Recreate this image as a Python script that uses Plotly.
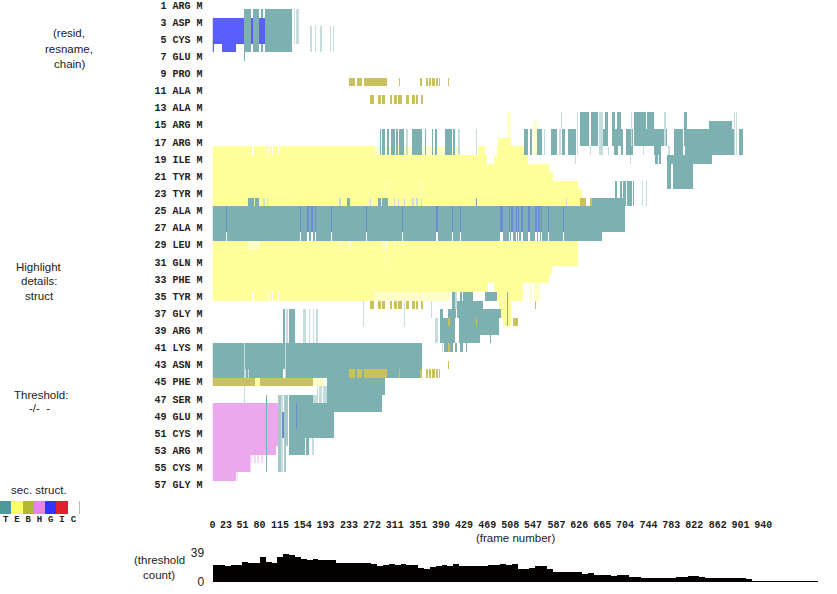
import numpy as np
import plotly.graph_objects as go

W, H = 837, 594
N_FRAMES = 1034
N_RES = 58
FRAME_TICKS = [0,23,51,80,115,154,193,233,272,311,351,390,429,469,508,547,587,626,665,704,744,783,822,862,901,940]
RES_IDS = list(range(1, 58, 2))
RES_NAMES = ["ARG","ASP","CYS","GLU","PRO","ALA","ALA","ARG","ARG","ILE","TYR","TYR","ALA","ALA","LEU",
             "GLN","PHE","TYR","GLY","ARG","LYS","ASN","PHE","SER","GLU","CYS","ARG","CYS","GLY"]
SS_LETTERS = ["T","E","B","H","G","I","C"]
SS_LEGEND_COLORS = ["#4a9a9a","#ffff66","#b5b534","#e884e8","#3333ff","#e0202c","#ffffff"]

# run tables: (first residue, last residue, first frame, last frame)
E_RUNS = [(18,18,0,276),(18,18,453,465),(18,18,486,531),(17,17,487,510),(19,19,0,468),(19,19,480,538),
          (20,20,0,575),(21,21,0,581),(22,22,0,624),(23,23,0,630),(24,24,0,627),(29,31,0,624),(32,32,0,579),
          (33,33,0,575),(34,34,0,530),(35,35,0,276),(35,35,485,530),(36,36,488,510),(37,37,491,510),(38,38,496,510)]
PALE_E_RUNS = [(14,16,503,510),(18,18,276,420),(35,35,276,405),(34,35,541,545),(34,35,549,558),(15,18,547,553),(29,29,61,81),
               (29,29,215,219),(29,29,230,236),(29,29,290,300),(29,31,296,298),(22,24,296,298),(22,24,355,356),
               (29,29,309,312),(29,29,326,327),(45,45,172,190)]
H_RUNS = [(48,52,0,112),(53,53,0,108),(54,55,0,64),(56,56,0,40)]
PALE_H_RUNS = [(54,54,64,68),(54,54,70,74),(54,54,76,80),(54,54,83,87),(55,55,64,66),(56,56,41,43)]
T_RUNS = [(2,6,53,136),(7,7,53,55),
          (16,18,285,288),(16,18,290,295),(16,18,298,302),(16,18,305,311),(16,18,313,317),(16,18,319,327),
          (16,18,340,343),(16,18,344,347),(16,18,348,357),(16,18,363,365),(16,18,375,377),(16,18,380,383),
          (16,18,397,408),(16,18,410,414),(16,18,532,538),(16,18,541,545),(16,18,553,562),(16,18,578,588),
          (16,18,597,601),(16,18,607,620),
          (14,17,627,643),(14,17,645,657),(14,17,670,675),(14,17,682,687),(14,17,691,697),(14,17,720,732),
          (14,17,733,740),(14,17,742,753),(14,17,805,810),
          (16,17,660,675),(16,17,682,701),(16,17,705,718),(16,17,720,761),(16,17,762,775),(16,17,787,802),(16,17,806,889),
          (18,18,685,692),(18,18,697,700),(18,18,705,718),(18,18,754,766),(18,18,787,802),(18,18,806,889),
          (16,18,899,905),(15,18,847,886),(19,19,755,760),(19,19,761,765),(19,19,775,852),(20,22,775,783),(20,22,786,820),
          (22,24,686,691),(22,24,695,699),(22,24,701,706),(22,24,708,715),(22,24,717,719),(24,24,647,704),
          (25,27,0,704),(28,28,0,664),(24,24,60,70),(24,24,72,80),(24,24,230,235),(24,24,283,287),(24,24,290,300),(24,24,450,451),
          (37,40,121,124),(37,40,130,141),(41,44,0,357),(45,46,195,294),(47,48,195,289),(47,47,130,172),(48,51,130,207),
          (52,53,130,158),(52,53,160,164),
          (35,36,409,413),(35,36,422,425),(35,36,427,439),(35,36,440,444),(35,35,465,486),(36,36,408,462),
          (37,37,389,394),(37,37,402,415),(37,37,417,493),(38,40,388,414),(38,40,421,456),(38,39,456,489),
          (41,41,395,411),(41,41,414,417),(41,41,423,428),(41,41,432,434),(35,38,502,503),(40,40,474,475),(47,55,91,92)]
PALE_T_RUNS = [(2,5,139,141),(2,5,143,147),(4,6,166,169),(4,6,175,176),(4,6,183,186),(4,6,201,203),(4,6,205,207),
               (16,18,331,332),(16,18,419,422),(16,18,450,451),(16,18,565,568),(16,18,591,595),(14,15,594,595),(14,18,622,623),
               (14,17,660,667),(14,17,714,716),(14,17,770,774),(18,18,644,646),(18,18,660,667),(18,18,675,677),(18,18,735,737),
               (18,18,778,781),(14,18,889,891),(14,18,893,894),(19,19,618,619),(19,19,712,713),
               (22,24,732,734),(22,24,740,742),(24,24,87,88),(24,24,93,94),(24,24,215,219),(24,24,269,271),(24,24,309,312),
               (24,24,317,318),(24,24,326,327),(24,24,341,342),(24,24,348,349),(24,24,355,356),(24,24,603,604),
               (37,40,125,128),(37,40,155,160),(37,40,164,166),(37,40,171,172),(37,40,176,180),
               (36,38,257,258),(36,38,327,328),(36,37,373,374),(46,47,53,54),(46,47,178,180),(46,47,182,186),(46,47,189,195),
               (47,47,172,180),(52,53,169,173),(35,36,414,418),(38,40,380,384),(41,41,391,394),
               (41,44,53,54),(41,44,124,125),(44,44,55,56),(44,44,61,62),(47,55,117,120)]
MID_T_RUNS = [(47,52,112,117),(47,52,122,128),(53,55,112,117),(53,55,122,126)]
B_FRAMES_A = [(233,243),(247,255),(258,297),(318,320),(354,358),(364,367),(370,373),(375,379),(381,385),(387,389)]
B_FRAMES_B = [(269,275),(283,287),(289,294),(303,307),(310,314),(317,323),(331,336),(340,345),(347,351),(355,360)]
B_RUNS = [(10,10,402,404),(43,43,402,404),(45,45,0,172),(24,24,627,637),(24,24,644,647),(38,38,401,405),(41,41,401,405),
          (38,38,450,452),(38,38,513,522),(36,36,550,552)]
E_OVER_B_RUNS = [(45,45,73,81)]
G_RUNS = [(3,5,0,53),(6,6,17,40),(6,6,0,1),(3,5,66,69),(3,5,79,89)]
STRIPE_FRAMES = [(23,25),(149,150),(162,163),(168,171),(175,176),(202,204),(262,264),(323,324),(382,383),(409,411),
                 (422,424),(490,491),(493,495),(506,508),(510,513),(517,519),(521,522),(527,529),(539,540),(550,553),
                 (555,558),(560,563),(573,574),(598,599)]
BLUE_IN_H_RUNS = [(49,51,119,122),(48,50,143,145)]
C_RUNS = [(2,2,66,69),(6,6,66,69),(2,2,79,82),(6,6,79,82),(2,2,86,89),(6,6,86,89),
          (18,18,68,69),(18,18,95,96),(18,18,101,102),(18,18,112,113),(35,35,68,69),(35,35,95,96),(35,35,101,102),(35,35,112,113),
          (34,34,470,480),(44,44,121,123)]

HIST_BIN = 10
HIST_COUNTS = [23,23,22,23,23,27,26,25,33,27,26,33,37,36,33,31,30,31,30,29,30,26,25,26,25,26,25,24,22,23,24,23,24,23,23,
               19,18,20,21,23,22,24,22,22,21,21,22,23,23,24,23,
               24,18,18,19,21,21,17,14,14,13,14,13,11,12,10,10,10,8,10,10,7,7,5,6,5,6,5,5,7,7,8,8,7,5,5,5,5,5,5,5,4,
               1,1,1,1,1,1,1,1,1,1,1,1]

# main-map colours (blended as in the picture)
C0, T, E, B, HH, G, PT, PE, SB, PH, MT = 0, 1, 2, 3, 4, 5, 6, 7, 8, 9, 10
MAIN_COLORS = ["#ffffff","#7db1b1","#ffff9c","#c9c25c","#eca8ec","#5a5eff","#c6dddd","#fffdc8","#6a8ed0","#f8d8f8","#a6c8c8"]

m = np.zeros((N_RES, N_FRAMES), dtype=int)
def paint(runs, code):
    for r0, r1, f0, f1 in runs:
        m[r0-1:r1, f0:max(f1, f0+2)] = code

paint(E_RUNS, E); paint(PALE_E_RUNS, PE); paint(H_RUNS, HH); paint(PALE_H_RUNS, PH)
paint(T_RUNS, T); paint(PALE_T_RUNS, PT); paint(MID_T_RUNS, MT)
for row in (10, 44):
    paint([(row,row,a,b) for a,b in B_FRAMES_A], B)
for row in (12, 36):
    paint([(row,row,a,b) for a,b in B_FRAMES_B], B)
paint(B_RUNS, B); paint(E_OVER_B_RUNS, E); paint(G_RUNS, G)
paint([(25,27,a,b) for a,b in STRIPE_FRAMES], SB)
paint([(28,28,a,b) for a,b in STRIPE_FRAMES], C0)
paint(BLUE_IN_H_RUNS, SB); paint(C_RUNS, C0)

def discrete(colors):
    n = len(colors); s = []
    for i, c in enumerate(colors):
        s += [[i/n, c], [(i+1)/n, c]]
    return s

# pixel layout helpers
def px(x): return x / W
def py(y): return 1 - y / H
X0, X1 = 212.5, 818
f_per_px = 1 / 0.586
y_of_res0 = 5; res_px = 8.567
MAP_BOTTOM = 513

fig = go.Figure()
fig.add_trace(go.Heatmap(z=m, x=np.arange(N_FRAMES)+0.5, y=np.arange(1, N_RES+1), zmin=0, zmax=len(MAIN_COLORS),
                         colorscale=discrete(MAIN_COLORS), showscale=False, hoverinfo="skip", xaxis="x", yaxis="y"))
fig.add_trace(go.Bar(x=[(i+0.5)*HIST_BIN for i in range(len(HIST_COUNTS))], y=HIST_COUNTS, width=HIST_BIN,
                     marker=dict(color="#050000", line=dict(width=0)), xaxis="x2", yaxis="y2", hoverinfo="skip"))
fig.add_trace(go.Heatmap(z=[list(range(7))], x=SS_LETTERS, zmin=0, zmax=7, colorscale=discrete(SS_LEGEND_COLORS),
                         showscale=False, hoverinfo="skip", xaxis="x3", yaxis="y3"))

mono = "Liberation Mono"
sans = "Liberation Sans"
tick_m = dict(family=mono, size=10, color="#222222", weight="bold")
frame_max = (X1 - X0) * f_per_px
layout = dict(
    width=W, height=H, margin=dict(l=0, r=0, t=0, b=0, autoexpand=False), paper_bgcolor="white", plot_bgcolor="white", showlegend=False,
    xaxis=dict(domain=[px(X0), px(X1)], range=[0, frame_max], tickmode="array", tickvals=FRAME_TICKS,
               ticktext=[str(v) for v in FRAME_TICKS], tickangle=0, ticks="outside", ticklen=2, tickcolor="white",
               tickfont=tick_m, showgrid=False, zeroline=False, showline=False, anchor="y"),
    yaxis=dict(domain=[py(MAP_BOTTOM), 1], range=[1 + (MAP_BOTTOM - y_of_res0)/res_px, 1 - y_of_res0/res_px],
               tickmode="array", tickvals=RES_IDS, ticktext=[f"{i} {n} M" for i, n in zip(RES_IDS, RES_NAMES)],
               ticks="outside", ticklen=7, tickcolor="white", tickfont=tick_m, showgrid=False, zeroline=False, showline=False),
    xaxis2=dict(domain=[px(X0), px(X1)], range=[0, frame_max], showticklabels=False, ticks="", showgrid=False,
                zeroline=False, showline=False, anchor="y2"),
    yaxis2=dict(domain=[py(582), py(553)], range=[0, 39], tickmode="array", tickvals=[0, 39], ticktext=["0", "39"],
                ticks="outside", ticklen=5, tickcolor="white", tickfont=dict(family=sans, size=12, color="#222222"),
                showgrid=False, zeroline=False, showline=False, anchor="x2"),
    xaxis3=dict(domain=[0, px(79)], tickfont=dict(family=mono, size=9, color="#222222", weight="bold"), ticks="", ticklabelstandoff=-2,
                showgrid=False, zeroline=False, showline=False, anchor="y3", type="category"),
    yaxis3=dict(domain=[py(514), py(501)], showticklabels=False, ticks="", showgrid=False, zeroline=False,
                showline=False, anchor="x3"),
    bargap=0,
)
notes = [("(resid,",69,33),("resname,",69,49),("chain)",69,64),("Highlight",39,267),("details:",39,281),("struct",39,296),
         ("Threshold:",41,395),("-/-  -",39,408),("sec. struct.",39,490),("(threshold",159,560),("count)",159,575),
         ("(frame number)",515,538)]
layout["annotations"] = [dict(text=t, x=px(x), y=py(y), xref="paper", yref="paper", showarrow=False, xanchor="center",
                              yanchor="middle", font=dict(family=sans, size=11.5, color="#222222")) for t, x, y in notes]
layout["shapes"] = [dict(type="line", xref="paper", yref="paper", x0=px(79.5), x1=px(79.5), y0=py(501), y1=py(514),
                         line=dict(color="#bbbbbb", width=1))]
fig.update_layout(**layout)
fig.write_html("out.html", post_script="document.body.style.margin='0';", config={"displayModeBar": False})
